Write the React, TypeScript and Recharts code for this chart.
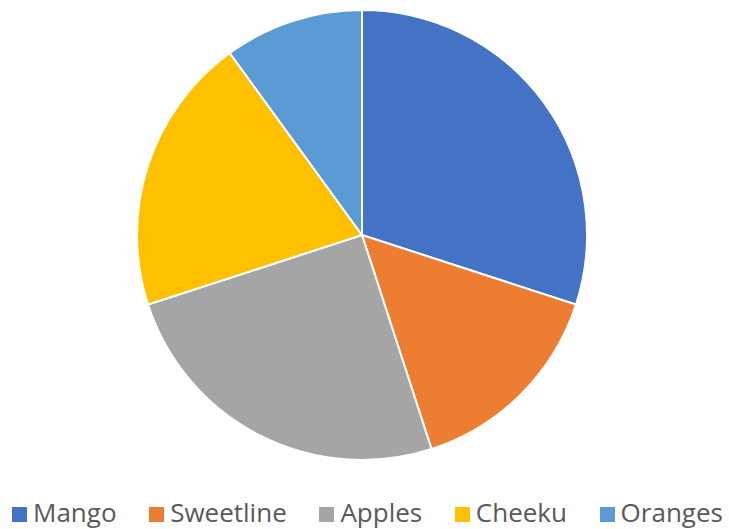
import React from 'react';
import { PieChart, Pie, Cell, Legend } from 'recharts';

const categories = ['Mango', 'Sweetline', 'Apples', 'Cheeku', 'Oranges'];
const values = [30, 15, 25, 20, 10];
const colors = ['#4472C4', '#ED7D31', '#A5A5A5', '#FFC000', '#5B9BD5'];

const data = categories.map((name, i) => ({ name, value: values[i] }));

const renderLegend = () => (
  <div style={{ display: 'flex', justifyContent: 'space-between', width: 711, marginLeft: 12, fontFamily: '"Open Sans", sans-serif', fontSize: 26, color: '#595959', lineHeight: '30px' }}>
    {categories.map((c, i) => (
      <div key={c} style={{ display: 'flex', alignItems: 'center' }}>
        <span style={{ display: 'inline-block', width: 15, height: 15, background: colors[i], marginRight: 6, marginTop: 4 }} />
        <span>{c}</span>
      </div>
    ))}
  </div>
);

export default function App() {
  return (
    <div style={{ position: 'absolute', left: 0, top: 0, width: 729, height: 529, background: '#fff', overflow: 'hidden' }}>
      <PieChart width={729} height={529} margin={{ top: 0, right: 0, bottom: 0, left: 0 }}>
        <Pie
          data={data}
          dataKey="value"
          nameKey="name"
          cx={362}
          cy={235}
          outerRadius={225}
          startAngle={90}
          endAngle={-270}
          stroke="#ffffff"
          strokeWidth={2}
          isAnimationActive={false}
        >
          {data.map((d, i) => (
            <Cell key={d.name} fill={colors[i]} />
          ))}
        </Pie>
        <Legend content={renderLegend} wrapperStyle={{ position: 'absolute', top: 497, left: 0, width: 729 }} />
      </PieChart>
    </div>
  );
}
